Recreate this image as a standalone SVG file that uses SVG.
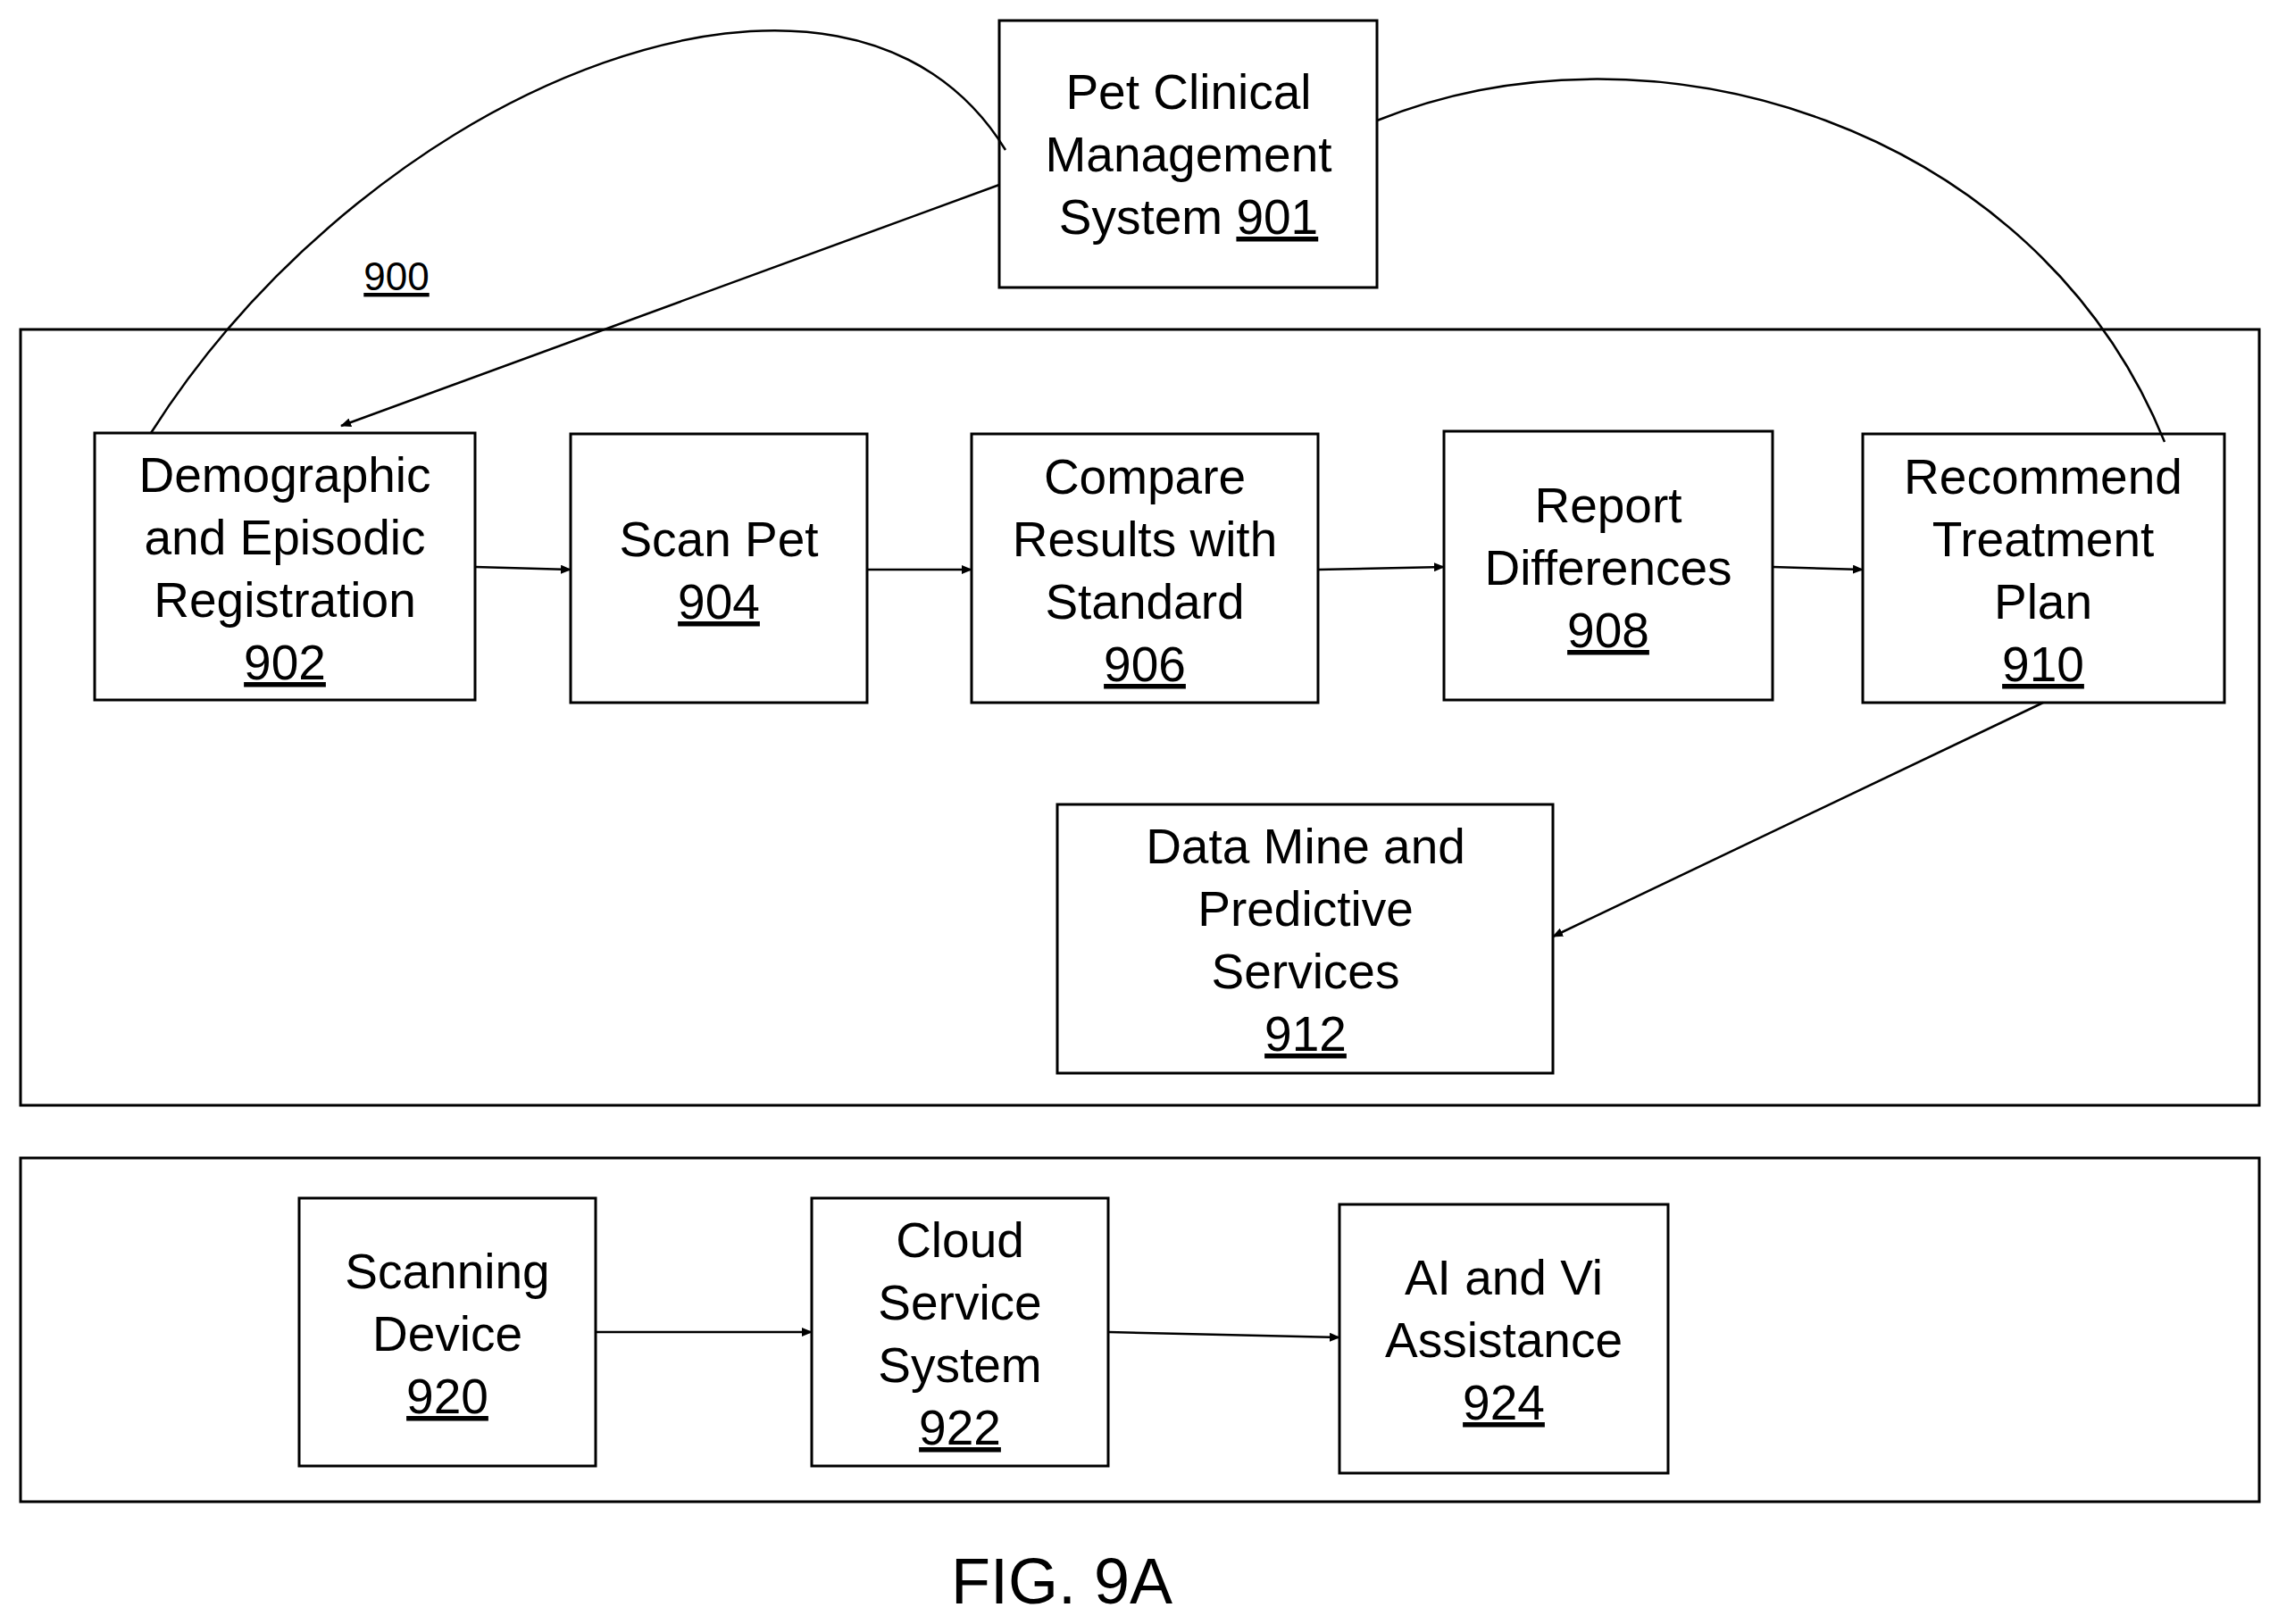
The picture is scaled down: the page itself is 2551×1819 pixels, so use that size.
<svg xmlns="http://www.w3.org/2000/svg" width="2551" height="1819" viewBox="0 0 2551 1819">
<style>
rect{fill:#fff;stroke:#000;stroke-width:3}
text{font-family:"Liberation Sans",Arial,sans-serif;font-size:55px;text-anchor:middle;fill:#000}
.u{text-decoration:underline}
.c{fill:none;stroke:#000;stroke-width:2.5}
</style>
<defs><marker id="a" markerWidth="12" markerHeight="10" refX="11" refY="5" orient="auto" markerUnits="userSpaceOnUse" viewBox="0 0 12 10"><path d="M0,0L12,5L0,10z"/></marker></defs>
<rect x="23" y="369" width="2507" height="869" style="fill:none"/>
<rect x="23" y="1297" width="2507" height="385" style="fill:none"/>
<text x="444" y="325" class="u" style="font-size:44px">900</text>
<g id="n901"><rect x="1119" y="23" width="423" height="299"/><text x="1331" y="122">Pet Clinical</text><text x="1331" y="192">Management</text><text x="1331" y="262">System <tspan class="u">901</tspan></text></g>
<g id="n902"><rect x="106" y="485" width="426" height="299"/><text x="319" y="551">Demographic</text><text x="319" y="621">and Episodic</text><text x="319" y="691">Registration</text><text x="319" y="761" class="u">902</text></g>
<g id="n904"><rect x="639" y="486" width="332" height="301"/><text x="805" y="623">Scan Pet</text><text x="805" y="693" class="u">904</text></g>
<g id="n906"><rect x="1088" y="486" width="388" height="301"/><text x="1282" y="553">Compare</text><text x="1282" y="623">Results with</text><text x="1282" y="693">Standard</text><text x="1282" y="763" class="u">906</text></g>
<g id="n908"><rect x="1617" y="483" width="368" height="301"/><text x="1801" y="585">Report</text><text x="1801" y="655">Differences</text><text x="1801" y="725" class="u">908</text></g>
<g id="n910"><rect x="2086" y="486" width="405" height="301"/><text x="2288" y="553">Recommend</text><text x="2288" y="623">Treatment</text><text x="2288" y="693">Plan</text><text x="2288" y="763" class="u">910</text></g>
<g id="n912"><rect x="1184" y="901" width="555" height="301"/><text x="1462" y="967">Data Mine and</text><text x="1462" y="1037">Predictive</text><text x="1462" y="1107">Services</text><text x="1462" y="1177" class="u">912</text></g>
<g id="n920"><rect x="335" y="1342" width="332" height="300"/><text x="501" y="1443">Scanning</text><text x="501" y="1513">Device</text><text x="501" y="1583" class="u">920</text></g>
<g id="n922"><rect x="909" y="1342" width="332" height="300"/><text x="1075" y="1408">Cloud</text><text x="1075" y="1478">Service</text><text x="1075" y="1548">System</text><text x="1075" y="1618" class="u">922</text></g>
<g id="n924"><rect x="1500" y="1349" width="368" height="301"/><text x="1684" y="1450">AI and Vi</text><text x="1684" y="1520">Assistance</text><text x="1684" y="1590" class="u">924</text></g>
<g id="connectors">
<path class="c" d="M169,485 C420,90 950,-120 1126,168"/>
<path class="c" d="M1542,135 C1850,10 2280,140 2424,495"/>
<path class="c" marker-end="url(#a)" d="M1119,207 L382,477"/>
<path class="c" marker-end="url(#a)" d="M532,635 L639,638"/>
<path class="c" marker-end="url(#a)" d="M971,638 L1088,638"/>
<path class="c" marker-end="url(#a)" d="M1476,638 L1617,635"/>
<path class="c" marker-end="url(#a)" d="M1985,635 L2086,638"/>
<path class="c" marker-end="url(#a)" d="M2288,787 L1739,1049"/>
<path class="c" marker-end="url(#a)" d="M667,1492 L909,1492"/>
<path class="c" marker-end="url(#a)" d="M1241,1492 L1500,1498"/>
</g>
<text x="1189" y="1796" style="font-size:72px">FIG. 9A</text>
</svg>
